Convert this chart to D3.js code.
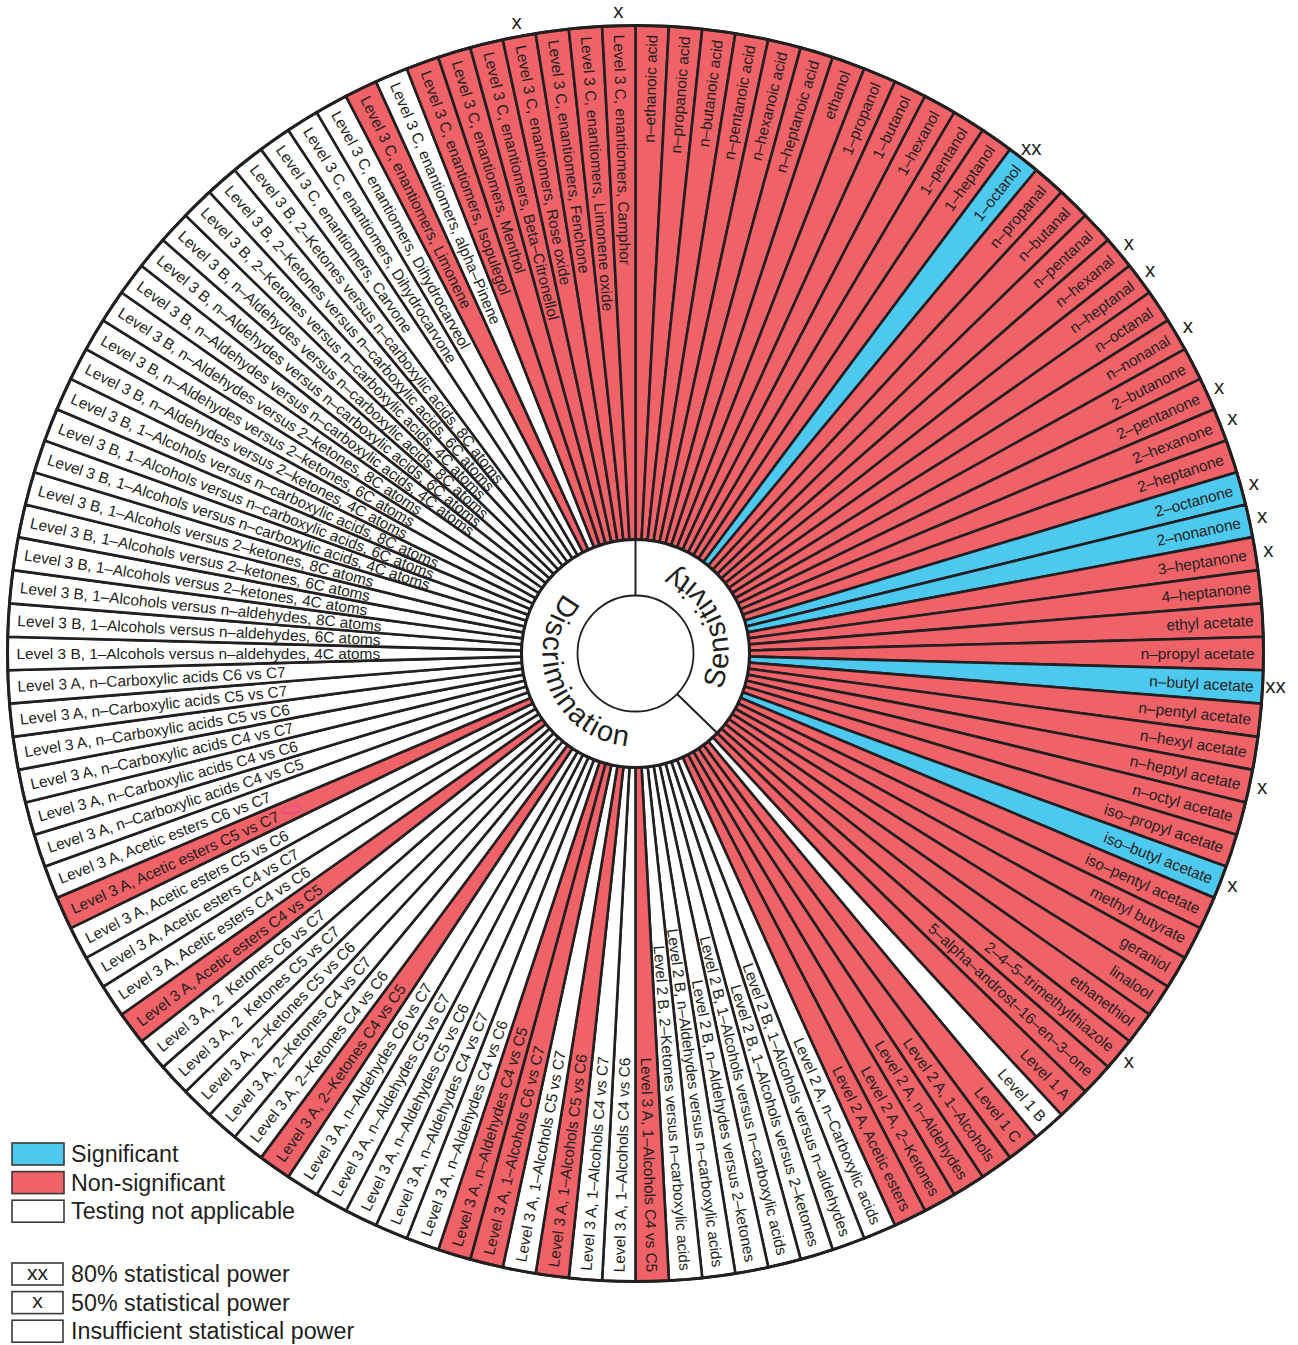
<!DOCTYPE html>
<html>
<head>
<meta charset="utf-8">
<script src="https://cdn.jsdelivr.net/npm/d3@7"></script>
<style>
  html, body { margin: 0; padding: 0; background: #ffffff; }
  svg { display: block; }
  text { font-family: "Liberation Sans", Arial, Helvetica, sans-serif; fill: #231f20; white-space: pre; }
</style>
</head>
<body>
<svg id="chart" width="1298" height="1345"></svg>
<script>
// ---- Data -------------------------------------------------------------
// Result codes: S = significant, N = non-significant, T = testing not applicable
// Power codes: "xx" = 80% statistical power, "x" = 50% statistical power, "" = insufficient

const sectionNames = ["Sensitivity", "Discrimination"];

const sensitivityLabels = [
  "n–ethanoic acid", "n–propanoic acid", "n–butanoic acid", "n–pentanoic acid",
  "n–hexanoic acid", "n–heptanoic acid",
  "ethanol", "1–propanol", "1–butanol", "1–hexanol", "1–pentanol", "1–heptanol", "1–octanol",
  "n–propanal", "n–butanal", "n–pentanal", "n–hexanal", "n–heptanal", "n–octanal", "n–nonanal",
  "2–butanone", "2–pentanone", "2–hexanone", "2–heptanone", "2–octanone", "2–nonanone",
  "3–heptanone", "4–heptanone",
  "ethyl acetate", "n–propyl acetate", "n–butyl acetate", "n–pentyl acetate", "n–hexyl acetate",
  "n–heptyl acetate", "n–octyl acetate", "iso–propyl acetate", "iso–butyl acetate",
  "iso–pentyl acetate", "methyl butyrate",
  "geraniol", "linalool", "ethanethiol", "2–4–5–trimethylthiazole", "5–alpha–androst–16–en–3–one"
];
const sensitivityResult = [
  "N","N","N","N","N","N",
  "N","N","N","N","N","N","S",
  "N","N","N","N","N","N","N",
  "N","N","N","N","S","S","N","N",
  "N","N","S","N","N","N","N","N","S","N","N",
  "N","N","N","N","N"
];
const sensitivityPower = [
  "","","","","","",
  "","","","","","","xx",
  "","","","x","x","","x",
  "","x","x","","x","x","x","",
  "","","xx","","","x","","","x","","",
  "","","","x",""
];

const discriminationLabels = [
  "Level 1 A", "Level 1 B", "Level 1 C",
  "Level 2 A, 1–Alcohols", "Level 2 A, n–Aldehydes", "Level 2 A, 2–Ketones",
  "Level 2 A, Acetic esters", "Level 2 A, n–Carboxylic acids",
  "Level 2 B, 1–Alcohols versus n–aldehydes", "Level 2 B, 1–Alcohols versus 2–ketones",
  "Level 2 B, 1–Alcohols versus n–carboxylic acids", "Level 2 B, n–Aldehydes versus 2–ketones",
  "Level 2 B, n–Aldehydes versus n–carboxylic acids", "Level 2 B, 2–Ketones versus n–carboxylic acids",
  "Level 3 A, 1–Alcohols C4 vs C5", "Level 3 A, 1–Alcohols C4 vs C6", "Level 3 A, 1–Alcohols C4 vs C7",
  "Level 3 A, 1–Alcohols C5 vs C6", "Level 3 A, 1–Alcohols C5 vs C7", "Level 3 A, 1–Alcohols C6 vs C7",
  "Level 3 A, n–Aldehydes C4 vs C5", "Level 3 A, n–Aldehydes C4 vs C6", "Level 3 A, n–Aldehydes C4 vs C7",
  "Level 3 A, n–Aldehydes C5 vs C6", "Level 3 A, n–Aldehydes C5 vs C7", "Level 3 A, n–Aldehydes C6 vs C7",
  "Level 3 A, 2–Ketones C4 vs C5", "Level 3 A, 2–Ketones C4 vs C6", "Level 3 A, 2–Ketones C4 vs C7",
  "Level 3 A, 2–Ketones C5 vs C6", "Level 3 A, 2  Ketones C5 vs C7", "Level 3 A, 2  Ketones C6 vs C7",
  "Level 3 A, Acetic esters C4 vs C5", "Level 3 A, Acetic esters C4 vs C6", "Level 3 A, Acetic esters C4 vs C7",
  "Level 3 A, Acetic esters C5 vs C6", "Level 3 A, Acetic esters C5 vs C7", "Level 3 A, Acetic esters C6 vs C7",
  "Level 3 A, n–Carboxylic acids C4 vs C5", "Level 3 A, n–Carboxylic acids C4 vs C6",
  "Level 3 A, n–Carboxylic acids C4 vs C7", "Level 3 A, n–Carboxylic acids C5 vs C6",
  "Level 3 A, n–Carboxylic acids C5 vs C7", "Level 3 A, n–Carboxylic acids C6 vs C7",
  "Level 3 B, 1–Alcohols versus n–aldehydes, 4C atoms",
  "Level 3 B, 1–Alcohols versus n–aldehydes, 6C atoms",
  "Level 3 B, 1–Alcohols versus n–aldehydes, 8C atoms",
  "Level 3 B, 1–Alcohols versus 2–ketones, 4C atoms",
  "Level 3 B, 1–Alcohols versus 2–ketones, 6C atoms",
  "Level 3 B, 1–Alcohols versus 2–ketones, 8C atoms",
  "Level 3 B, 1–Alcohols versus n–carboxylic acids, 4C atoms",
  "Level 3 B, 1–Alcohols versus n–carboxylic acids, 6C atoms",
  "Level 3 B, 1–Alcohols versus n–carboxylic acids, 8C atoms",
  "Level 3 B, n–Aldehydes versus 2–ketones, 4C atoms",
  "Level 3 B, n–Aldehydes versus 2–ketones, 6C atoms",
  "Level 3 B, n–Aldehydes versus 2–ketones, 8C atoms",
  "Level 3 B, n–Aldehydes versus n–carboxylic acids, 4C atoms",
  "Level 3 B, n–Aldehydes versus n–carboxylic acids, 6C atoms",
  "Level 3 B, n–Aldehydes versus n–carboxylic acids, 8C atoms",
  "Level 3 B, 2–Ketones versus n–carboxylic acids, 4C atoms",
  "Level 3 B, 2–Ketones versus n–carboxylic acids, 6C atoms",
  "Level 3 B, 2–Ketones versus n–carboxylic acids, 8C atoms",
  "Level 3 C, enantiomers, Carvone", "Level 3 C, enantiomers, Dihydrocarvone",
  "Level 3 C, enantiomers, Dihydrocarveol", "Level 3 C, enantiomers, Limonene",
  "Level 3 C, enantiomers, alpha–Pinene", "Level 3 C, enantiomers, Isopulegol",
  "Level 3 C, enantiomers, Menthol", "Level 3 C, enantiomers, Beta–Citronellol",
  "Level 3 C, enantiomers, Rose oxide", "Level 3 C, enantiomers, Fenchone",
  "Level 3 C, enantiomers, Limonene oxide", "Level 3 C, enantiomers, Camphor"
];
const discriminationResult = [
  "N","T","N",
  "N","N","N","N","T",
  "T","T","T","T","T","T",
  "N","T","T","N","T","N",
  "N","T","T","T","T","T",
  "N","T","T","T","T","T",
  "N","T","T","T","N","T",
  "T","T","T","T","T","T",
  "T","T","T","T","T","T","T","T","T","T","T","T","T","T","T","T","T","T",
  "T","T","T","N","T","N","N","N","N","N","N","N"
];
const discriminationPower = [
  "","","",
  "","","","","",
  "","","","","","",
  "","","","","","",
  "","","","","","",
  "","","","","","",
  "","","","","","",
  "","","","","","",
  "","","","","","","","","","","","","","","","","","",
  "","","","","","","","","x","","","x"
];

const resultKeys = ["S", "N", "T"];
const resultNames = ["Significant", "Non-significant", "Testing not applicable"];
const resultColors = ["#4dc9ef", "#ef6268", "#ffffff"];
const powerKeys = ["xx", "x", ""];
const powerNames = ["80% statistical power", "50% statistical power", "Insufficient statistical power"];

// ---- Layout ------------------------------------------------------------
const ink = "#231f20";
const cx = 635.5, cy = 653.5;
const R = 628, rRing = 114, rCore = 58;
const labelPad = 9, powerRadius = 641;

const labels = sensitivityLabels.concat(discriminationLabels);
const results = sensitivityResult.concat(discriminationResult);
const power = sensitivityPower.concat(discriminationPower);
const sectionSizes = [sensitivityLabels.length, discriminationLabels.length];
const n = labels.length;

const angle = d3.scaleBand().domain(d3.range(n)).range([0, 2 * Math.PI]).padding(0);
const bw = angle.bandwidth();
const mid = i => angle(i) + bw / 2;
const deg = a => a * 180 / Math.PI;
const color = d3.scaleOrdinal().domain(resultKeys).range(resultColors);

const svg = d3.select("#chart");
const g = svg.append("g").attr("transform", `translate(${cx},${cy})`);

// wedges
const arc = d3.arc()
  .innerRadius(rRing).outerRadius(R)
  .startAngle(i => angle(i)).endAngle(i => angle(i) + bw);

g.append("g").selectAll("path")
  .data(d3.range(n))
  .join("path")
  .attr("d", arc)
  .attr("fill", i => color(results[i]))
  .attr("stroke", ink)
  .attr("stroke-width", 2.6);

// outer rim
g.append("circle").attr("r", R).attr("fill", "none").attr("stroke", ink).attr("stroke-width", 3);

// radial labels: outward on the right half, inward on the left half
g.append("g").selectAll("text")
  .data(d3.range(n))
  .join("text")
  .attr("transform", i => {
    const a = deg(mid(i));
    return a < 180
      ? `rotate(${a - 90}) translate(${R - labelPad},0)`
      : `rotate(${a - 90}) translate(${R - labelPad},0) rotate(180)`;
  })
  .attr("text-anchor", i => deg(mid(i)) < 180 ? "end" : "start")
  .attr("dy", "0.35em")
  .style("font-size", "15.4px")
  .text(i => labels[i]);

// statistical power marks outside the rim
g.append("g").selectAll("text")
  .data(d3.range(n).filter(i => power[i] !== ""))
  .join("text")
  .attr("x", i => powerRadius * Math.sin(mid(i)))
  .attr("y", i => -powerRadius * Math.cos(mid(i)))
  .attr("dy", "0.26em")
  .attr("text-anchor", "middle")
  .style("font-size", "20.5px")
  .text(i => power[i]);

// centre ring with section names
g.append("circle").attr("r", rRing).attr("fill", "#fff").attr("stroke", ink).attr("stroke-width", 3);
g.append("circle").attr("r", rCore).attr("fill", "#fff").attr("stroke", ink).attr("stroke-width", 1.8);

const starts = [0, sectionSizes[0]];
const ends = [sectionSizes[0], n];
g.append("g").selectAll("line")
  .data(starts)
  .join("line")
  .attr("x1", s => rCore * Math.sin(angle(s)))
  .attr("y1", s => -rCore * Math.cos(angle(s)))
  .attr("x2", s => rRing * Math.sin(angle(s)))
  .attr("y2", s => -rRing * Math.cos(angle(s)))
  .attr("stroke", ink).attr("stroke-width", 2);

const rBase = 93;
const pt = a => [rBase * Math.sin(a), -rBase * Math.cos(a)];
const defs = svg.append("defs");
sectionNames.forEach((name, k) => {
  const a0 = angle(starts[k]);
  const a1 = ends[k] >= n ? 2 * Math.PI : angle(ends[k]);
  const [x1, y1] = pt(a1), [x0, y0] = pt(a0);
  defs.append("path")
    .attr("id", "sec" + k)
    .attr("d", `M${x1},${y1} A${rBase},${rBase} 0 ${a1 - a0 > Math.PI ? 1 : 0} 0 ${x0},${y0}`);
  g.append("text")
    .style("font-size", "29px")
    .style("letter-spacing", "1.6px")
    .append("textPath")
    .attr("href", "#sec" + k)
    .attr("startOffset", "50%")
    .attr("text-anchor", "middle")
    .text(name);
});

// small hand-drawn highlight next to one label
const hi = 80, hiR = 378;
g.append("ellipse")
  .attr("transform", `translate(${hiR * Math.sin(mid(hi))},${-hiR * Math.cos(mid(hi))}) rotate(-8)`)
  .attr("rx", 10).attr("ry", 3.6)
  .attr("fill", "none").attr("stroke", "#e0449c").attr("stroke-width", 1);

// ---- Legends -----------------------------------------------------------
const legend = svg.append("g").attr("transform", "translate(12,1143)");
const rowStep = 28.6;
const lr = legend.selectAll("g").data(resultKeys).join("g")
  .attr("transform", (d, i) => `translate(0,${i * rowStep})`);
lr.append("rect").attr("width", 52).attr("height", 22)
  .attr("fill", d => color(d)).attr("stroke", "#3a3a3a").attr("stroke-width", 1.6);
lr.append("text").attr("x", 59).attr("y", 11).attr("dy", "0.35em")
  .style("font-size", "23.3px").text((d, i) => resultNames[i]);

const legend2 = svg.append("g").attr("transform", "translate(12,1263)");
const pr = legend2.selectAll("g").data(powerKeys).join("g")
  .attr("transform", (d, i) => `translate(0,${i * rowStep})`);
pr.append("rect").attr("width", 51).attr("height", 22)
  .attr("fill", "#fff").attr("stroke", "#3a3a3a").attr("stroke-width", 1.6);
pr.append("text").attr("x", 25.5).attr("y", 11).attr("dy", "0.28em")
  .attr("text-anchor", "middle").style("font-size", "21px").text(d => d);
pr.append("text").attr("x", 59).attr("y", 11).attr("dy", "0.35em")
  .style("font-size", "23.3px").text((d, i) => powerNames[i]);
</script>
</body>
</html>
